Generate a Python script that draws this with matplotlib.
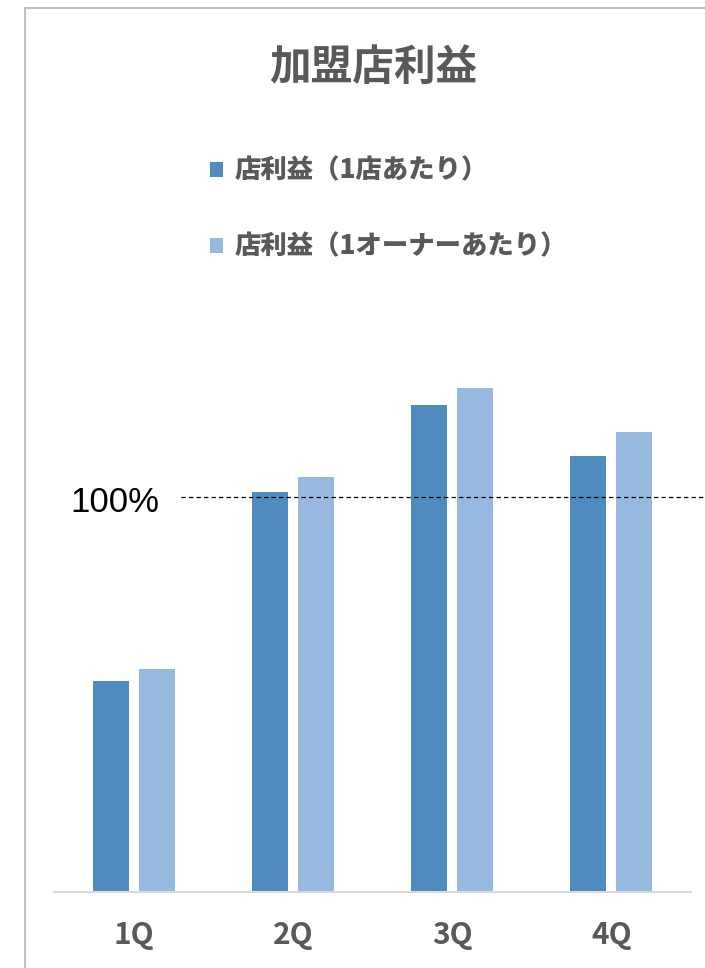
import numpy as np
import matplotlib
matplotlib.use("Agg")
from matplotlib import pyplot as plt
from matplotlib.patches import Rectangle

# data (percent of reference level)
quarters = ["1Q", "2Q", "3Q", "4Q"]
per_store = [53.4, 101.3, 123.3, 110.4]
per_owner = [56.5, 105.1, 127.6, 116.5]
labels = ["店利益（1店あたり）", "店利益（1オーナーあたり）"]
ref_level = 100

plt.rcParams['font.family'] = ['Noto Sans CJK JP', 'DejaVu Sans']

W, H = 705, 968
fig = plt.figure(figsize=(W / 100, H / 100), dpi=100)
ax = fig.add_axes([54 / W, (H - 892) / H, 637 / W, 592.5 / H])

x = np.arange(len(quarters))
bw = 0.226
off = 0.1445
b1 = ax.bar(x - off, per_store, bw, color="#4F8BBE", label=labels[0])
b2 = ax.bar(x + off, per_owner, bw, color="#98B9DF", label=labels[1])

ax.set_xlim(-0.5, len(quarters) - 0.5)
ax.set_ylim(0, 150)
ax.set_yticks([])
ax.set_xticks(x)
ax.set_xticklabels(quarters, fontsize=21.5, fontweight="bold", color="#595959")
ax.tick_params(axis="x", length=0, pad=20)
for s in ["top", "right", "left"]:
    ax.spines[s].set_visible(False)
ax.spines["bottom"].set_color("#D9D9D9")
ax.spines["bottom"].set_linewidth(1.5)

# 100% reference line
ax.axhline(ref_level, xmin=0.199, xmax=1.03, color="black", lw=0.9,
           ls=(0, (3.5, 2.5)), clip_on=False)
fig.text(115 / W, 1 - 503 / H, "100%", fontsize=25, family="Liberation Sans",
         ha="center", va="center", color="black")

fig.text(373 / W, 1 - 68 / H, "加盟店利益", fontsize=30, fontweight="bold",
         color="#595959", ha="center", va="center")

leg = ax.legend(handles=[b1, b2], loc="upper left",
                bbox_to_anchor=(210 / W, 1 - 156 / H), bbox_transform=fig.transFigure,
                frameon=False, fontsize=19, handlelength=0.5, handleheight=0.5,
                handletextpad=0.42, labelspacing=1.8, borderpad=0, borderaxespad=0)
for t in leg.get_texts():
    t.set_color("#595959")
    t.set_fontweight("heavy")

fig.patches.append(Rectangle((25 / W, -0.02), 1.0, 1 - 8 / H + 0.02,
                             transform=fig.transFigure, fill=False,
                             ec="#C0C0C0", lw=1.5))

fig.savefig("out.png", dpi=100)
